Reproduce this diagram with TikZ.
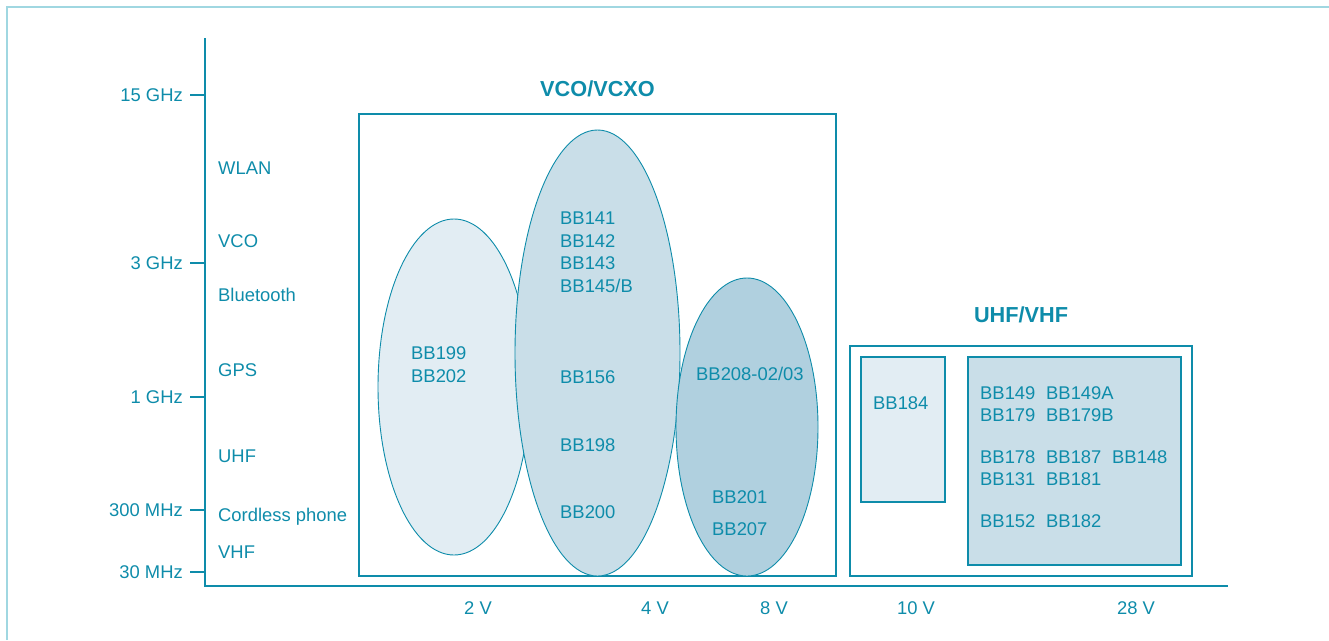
\documentclass[tikz,border=0pt]{standalone}
\usepackage{fontspec}
\setmainfont{Liberation Sans}
\usepackage{tikz}
\usetikzlibrary{positioning,shapes.geometric}

\definecolor{ink}{RGB}{14,140,170}
\definecolor{rim}{RGB}{160,215,225}
\definecolor{fillA}{RGB}{226,237,243}
\definecolor{fillB}{RGB}{201,222,232}
\definecolor{fillC}{RGB}{176,208,223}

\begin{document}
\begin{tikzpicture}[x=1pt, y=-1pt,
  every node/.style={text=ink, font=\fontsize{18.4}{22}\selectfont},
  lbl/.style={text height=13pt, text depth=0pt, inner sep=0pt},
  ttl/.style={font=\fontsize{21.7}{26}\selectfont\bfseries, text height=15.6pt, text depth=0pt, inner sep=0pt},
  blob/.style={ellipse, draw=ink, line width=0.9pt, inner sep=0pt},
  frame/.style={draw=ink, line width=1.1pt, inner sep=0pt},
  axis/.style={draw=ink, line width=1.4pt}
]
\useasboundingbox (0,0) rectangle (1329,640);
\draw[rim, line width=1.4pt] (7,640) -- (7,7) -- (1329,7);

% axes
\coordinate (top) at (205,38);
\coordinate (o) at (205,586);
\coordinate (end) at (1228,586);
\draw[axis] (top) -- (o) -- (end);
\foreach \y/\t in {95/15 GHz, 263/3 GHz, 397/1 GHz, 510/300 MHz, 572/30 MHz} {
  \draw[axis] (190,\y) -- (205,\y);
  \node[lbl, anchor=east] (f-\y) at (183,\y) {\t};
}
\foreach \y/\t in {168/WLAN, 241/VCO, 295/Bluetooth, 370/GPS, 456/UHF, 515/Cordless phone, 552/VHF}
  \node[lbl, anchor=west] (band-\y) at (218,\y) {\t};
\foreach \x/\t in {478/2 V, 655/4 V, 774/8 V, 916/10 V, 1136/28 V}
  \node[lbl] (v-\x) at (\x,608) {\t};

% VCO/VCXO group
\node[frame, minimum width=477, minimum height=462] (vco) at (597.5,345) {};
\node[ttl, above=17pt of vco.north] (vcotitle) {VCO/VCXO};
\node[blob, fill=fillA, minimum width=152, minimum height=336] (e1) at (454,387) {};
\node[blob, fill=fillB, minimum width=165, minimum height=446] (e2) at (597.5,353) {};
\node[blob, fill=fillC, minimum width=142, minimum height=298] (e3) at (747,427) {};

\node[lbl, anchor=west] (bb199) at (411,353) {BB199};
\node[lbl, anchor=west] (bb202) at (411,376) {BB202};
\foreach \y/\t in {218/BB141, 241/BB142, 263/BB143, 286/{BB145/B}, 377/BB156, 445/BB198, 512/BB200}
  \node[lbl, anchor=west] (e2-\y) at (560,\y) {\t};
\node[lbl, anchor=west] (bb208) at (696,374) {BB208-02/03};
\node[lbl, anchor=west] (bb201) at (712,497) {BB201};
\node[lbl, anchor=west] (bb207) at (712,529) {BB207};

% UHF/VHF group
\node[frame, minimum width=342, minimum height=230] (uhf) at (1021,461) {};
\node[ttl, above=23pt of uhf.north] (uhftitle) {UHF/VHF};
\node[frame, fill=fillA, minimum width=84, minimum height=145] (lowbox) at (903,429.5) {};
\node[frame, fill=fillB, minimum width=213, minimum height=208] (highbox) at (1074.5,461) {};
\node[lbl, anchor=west] (bb184) at (873,403) {BB184};
\foreach \x/\y/\t in {980/393/BB149, 1046/393/BB149A, 980/415/BB179, 1046/415/BB179B,
  980/457/BB178, 1046/457/BB187, 1112/457/BB148, 980/479/BB131, 1046/479/BB181,
  980/521/BB152, 1046/521/BB182}
  \node[lbl, anchor=west] (hb-\x-\y) at (\x,\y) {\t};
\end{tikzpicture}
\end{document}
